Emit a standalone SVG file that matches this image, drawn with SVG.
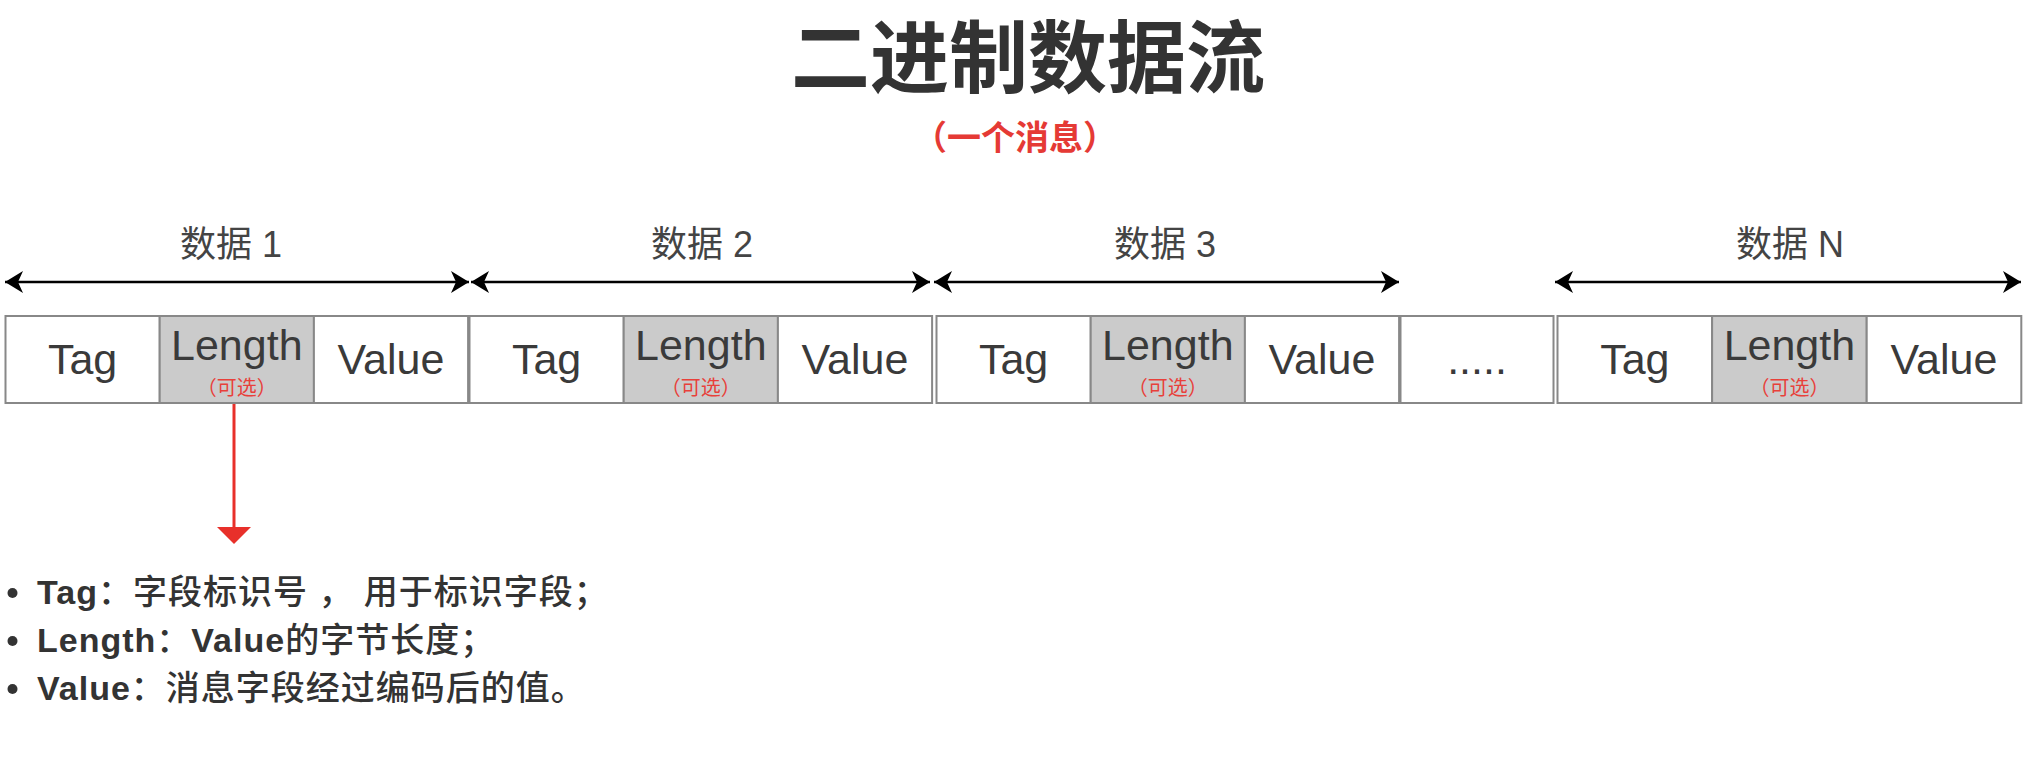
<svg xmlns="http://www.w3.org/2000/svg" width="2027" height="776" viewBox="0 0 2027 776">
<style>
.cell{fill:#fff;stroke:#888;stroke-width:2}
.cell.opt{fill:#cbcbcb}
.ct{font-family:"Liberation Sans",Arial,sans-serif;font-size:43px;fill:#3a3a3a;text-anchor:middle}
.opt-t{font-family:"Noto Sans CJK SC",sans-serif;font-size:20px;fill:#e8403a;text-anchor:middle}
.sec{font-family:"Liberation Sans","Noto Sans CJK SC",sans-serif;font-size:36px;fill:#444;text-anchor:middle}
.span{stroke:#000;stroke-width:2.5;fill:none;marker-start:url(#ah);marker-end:url(#ah)}
.note{font-family:"Liberation Sans","Noto Sans CJK SC",sans-serif;font-size:34px;font-weight:500;fill:#333;letter-spacing:1px}
.lat{font-weight:700}
</style>
<defs>
<marker id="ah" markerUnits="userSpaceOnUse" viewBox="-19 -12 20 24" refX="0" refY="0" markerWidth="20" markerHeight="24" orient="auto-start-reverse">
<path d="M0,0 L-18,-11 L-13,0 L-18,11 Z" fill="#000"/>
</marker>
</defs>
<rect width="2027" height="776" fill="#fff"/>
<g id="title">
<text x="1028" y="87" font-family="'Noto Sans CJK SC',sans-serif" font-size="79" font-weight="700" fill="#333" text-anchor="middle">二进制数据流</text>
<text x="1015" y="150" font-family="'Noto Sans CJK SC',sans-serif" font-size="34" font-weight="700" fill="#e53a35" text-anchor="middle">（一个消息）</text>
</g>
<g id="labels">
<text class="sec" x="231" y="257">数据 1</text>
<text class="sec" x="702" y="257">数据 2</text>
<text class="sec" x="1165" y="257">数据 3</text>
<text class="sec" x="1790" y="257">数据 N</text>
</g>
<g id="connectors">
<line class="span" x1="5" y1="282" x2="469" y2="282"/>
<line class="span" x1="471" y1="282" x2="930" y2="282"/>
<line class="span" x1="934" y1="282" x2="1399" y2="282"/>
<line class="span" x1="1555" y1="282" x2="2021" y2="282"/>
<line x1="234" y1="404" x2="234" y2="529" stroke="#e8302a" stroke-width="3"/>
<path d="M217,527 L251,527 L234,544 Z" fill="#e8302a"/>
</g>
<g id="d1-tag"><rect class="cell" x="5.5" y="316" width="154.2" height="87"/><text class="ct" x="82.6" y="374">Tag</text></g>
<g id="d1-length"><rect class="cell opt" x="159.7" y="316" width="154.2" height="87"/><text class="ct" x="236.8" y="360">Length</text><text class="opt-t" x="236.8" y="395">（可选）</text></g>
<g id="d1-value"><rect class="cell" x="313.9" y="316" width="154.2" height="87"/><text class="ct" x="391" y="374">Value</text></g>
<g id="d2-tag"><rect class="cell" x="469.5" y="316" width="154.2" height="87"/><text class="ct" x="546.6" y="374">Tag</text></g>
<g id="d2-length"><rect class="cell opt" x="623.7" y="316" width="154.2" height="87"/><text class="ct" x="700.8" y="360">Length</text><text class="opt-t" x="700.8" y="395">（可选）</text></g>
<g id="d2-value"><rect class="cell" x="777.9" y="316" width="154.2" height="87"/><text class="ct" x="855" y="374">Value</text></g>
<g id="d3-tag"><rect class="cell" x="936.5" y="316" width="154.2" height="87"/><text class="ct" x="1013.6" y="374">Tag</text></g>
<g id="d3-length"><rect class="cell opt" x="1090.7" y="316" width="154.2" height="87"/><text class="ct" x="1167.8" y="360">Length</text><text class="opt-t" x="1167.8" y="395">（可选）</text></g>
<g id="d3-value"><rect class="cell" x="1244.9" y="316" width="154.2" height="87"/><text class="ct" x="1322" y="374">Value</text></g>
<g id="dots"><rect class="cell" x="1400.5" y="316" width="153" height="87"/><text class="ct" x="1477" y="374">.....</text></g>
<g id="dn-tag"><rect class="cell" x="1557.5" y="316" width="154.6" height="87"/><text class="ct" x="1634.8" y="374">Tag</text></g>
<g id="dn-length"><rect class="cell opt" x="1712.1" y="316" width="154.6" height="87"/><text class="ct" x="1789.4" y="360">Length</text><text class="opt-t" x="1789.4" y="395">（可选）</text></g>
<g id="dn-value"><rect class="cell" x="1866.7" y="316" width="154.6" height="87"/><text class="ct" x="1944" y="374">Value</text></g>
<g id="notes">
<circle cx="12.5" cy="593" r="5" fill="#333"/>
<text class="note" x="37" y="604"><tspan class="lat">Tag</tspan>：字段标识号 ， 用于标识字段；</text>
<circle cx="12.5" cy="641" r="5" fill="#333"/>
<text class="note" x="37" y="652"><tspan class="lat">Length</tspan>：<tspan class="lat">Value</tspan>的字节长度；</text>
<circle cx="12.5" cy="689" r="5" fill="#333"/>
<text class="note" x="37" y="700"><tspan class="lat">Value</tspan>：消息字段经过编码后的值。</text>
</g>
</svg>
